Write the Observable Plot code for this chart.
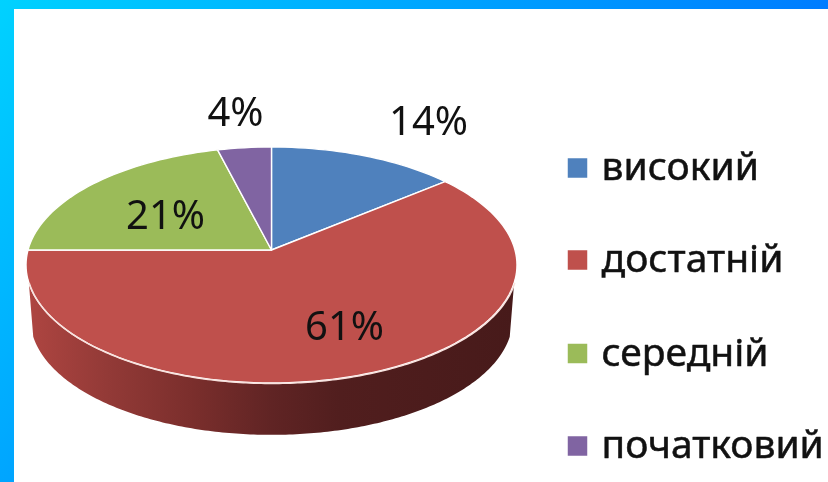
<!DOCTYPE html>
<html><head><meta charset="utf-8">
<script src="https://cdn.jsdelivr.net/npm/d3@7"></script>
<script src="https://cdn.jsdelivr.net/npm/@observablehq/plot@0.6"></script>
<style>
html,body{margin:0;padding:0;background:#fff}
#page{position:relative;width:828px;height:482px;overflow:hidden;background:linear-gradient(132deg,#00d2ff 0%,#0050ff 100%)}
#inner{position:absolute;left:14px;top:9px;right:0;bottom:0;background:#fff}
#chart{position:absolute;left:0;top:0}
#chart svg{display:block;background:transparent;filter:blur(.45px)}
</style></head><body>
<div id="page"><div id="inner"></div><div id="chart"></div></div>
<script>
// Data
const categories = ["високий","достатній","середній","початковий"];
const shares = [14,61,21,4];
const percentLabels = ["14%","61%","21%","4%"];
const sliceColors = ["#4f81bd","#bf504c","#9bbb59","#8064a2"];

// Layout (pixels)
const W = 828, H = 482;
const apex = [271.5, 250], scaleX = 243.5, scaleY = 116.1, tilt = 0.127;
const labelPx = [[428,122],[344,327],[165,216],[235,113]];
const legendSwatchX = 577, legendTextX = 601, legendRowY = [167.5,259.5,353,445.5];
const wallDrop = 54 / scaleY, wallShrink = 0.982, wallStartV = -0.274;

// Data-space helpers: pie coordinates are a tilted unit circle
const project = a => { const u = Math.sin(a), v = Math.cos(a), d = 1 + tilt * v; return [u / d, v / d]; };
const pxX = p => (p - apex[0]) / scaleX;
const pxY = p => (apex[1] - p) / scaleY;

const total = d3.sum(shares);
let cum = 0;
const sector = [];
shares.forEach((s, i) => {
  const a0 = cum / total * 2 * Math.PI; cum += s;
  const a1 = cum / total * 2 * Math.PI;
  const n = Math.max(4, Math.ceil(s * 2));
  d3.range(n + 1).forEach(k => {
    const [x, y] = project(a0 + (a1 - a0) * k / n);
    sector.push({name: categories[i], x, y});
  });
});

const a0 = Math.acos(wallStartV), a1 = 2 * Math.PI - a0;
const wallCenterY = pxY(265);
const front = d3.range(201).map(k => {
  const [x, y] = project(a0 + (a1 - a0) * k / 200);
  return {x, y, xb: x * wallShrink, yb: wallCenterY + (y - wallCenterY) * wallShrink - wallDrop};
});

const defs = () => {
  const ns = "http://www.w3.org/2000/svg";
  const d = document.createElementNS(ns, "defs");
  const g = document.createElementNS(ns, "linearGradient");
  g.setAttribute("id", "wall");
  [[0,"#ae4541"],[0.16,"#933a37"],[0.34,"#7a2e2c"],[0.5,"#602424"],[0.64,"#511e1e"],[1,"#471a1a"]].forEach(([o,c]) => {
    const s = document.createElementNS(ns, "stop");
    s.setAttribute("offset", o); s.setAttribute("stop-color", c); g.appendChild(s);
  });
  d.appendChild(g);
  return d;
};

const font = "'Noto Sans', sans-serif";
const chart = Plot.plot({
  width: W, height: H, margin: 0,
  x: {domain: [pxX(0), pxX(W)], range: [0, W], axis: null},
  y: {domain: [pxY(0), pxY(H)], range: [0, H], axis: null},
  color: {domain: categories, range: sliceColors},
  style: {background: "transparent"},
  marks: [
    defs,
    Plot.area(front, {x1: "x", y1: "y", x2: "xb", y2: "yb", fill: "url(#wall)"}),
    Plot.area(sector, {x1: () => 0, y1: () => 0, x2: "x", y2: "y", fill: "name", z: "name", stroke: "#fff", strokeWidth: 1.4}),
    Plot.line(front, {x: "x", y: "y", stroke: "#f8e2de", strokeWidth: 1.5}),
    Plot.text(percentLabels, {
      x: (d, i) => pxX(labelPx[i][0]), y: (d, i) => pxY(labelPx[i][1]),
      text: d => d, fontSize: 40, fontFamily: font, fill: "#111", textAnchor: "middle"
    }),
    Plot.dot(categories, {
      x: () => pxX(legendSwatchX), y: (d, i) => pxY(legendRowY[i]),
      fill: d => d, symbol: "square", r: 11
    }),
    Plot.text(categories, {
      x: () => pxX(legendTextX), y: (d, i) => pxY(legendRowY[i]),
      text: d => d, fontSize: 39, fontFamily: font, fill: "#111", stroke: "#111", strokeWidth: 0.5, textAnchor: "start"
    })
  ]
});
document.getElementById("chart").appendChild(chart);
</script>
</body></html>
